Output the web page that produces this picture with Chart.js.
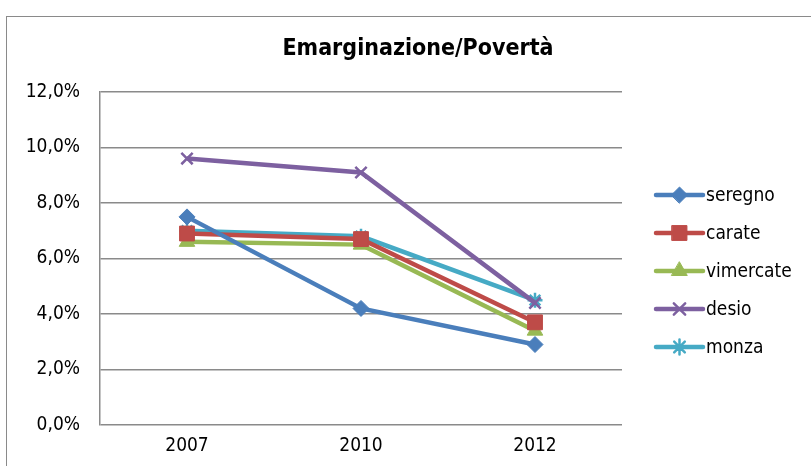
<!DOCTYPE html>
<html><head><meta charset="utf-8">
<script src="https://cdn.jsdelivr.net/npm/chart.js@4"></script>
<style>
html,body{margin:0;padding:0;background:#fff;}
#wrap{position:relative;width:811px;height:466px;overflow:hidden;}
#frame{position:absolute;left:6px;top:16px;width:820px;height:460px;border-left:1.5px solid #8a8a8a;border-top:1.5px solid #8a8a8a;}
canvas{position:absolute;left:0;top:0;}
</style></head>
<body><div id="wrap"><div id="frame"></div><canvas id="c" width="811" height="466"></canvas></div>
<script>
const categories = ['2007','2010','2012'];
const seregno   = [7.5, 4.2, 2.9];
const carate    = [6.9, 6.7, 3.7];
const vimercate = [6.6, 6.5, 3.4];
const desio     = [9.6, 9.1, 4.4];
const monza     = [7.0, 6.8, 4.5];
const seriesNames = ['seregno','carate','vimercate','desio','monza'];
const yTicks = [0,2,4,6,8,10,12];
const titleText = 'Emarginazione/Povertà';

const FONT = "'Liberation Sans Narrow','DejaVu Sans Condensed',sans-serif";
const colors = ['#4A7EBB','#BE4B48','#98B954','#7D60A0','#46AAC5'];
const styles = ['rectRot','rect','triangle','crossRot','star'];
const radii = [8,10.5,9,8,7.5];
const values = [seregno,carate,vimercate,desio,monza];

const datasets = values.map((v,i)=>({
  label: seriesNames[i], data: v,
  borderColor: colors[i], backgroundColor: colors[i],
  borderWidth: 4.5, pointStyle: styles[i], pointRadius: radii[i],
  pointBorderWidth: (styles[i]==='crossRot'||styles[i]==='star')?2.5:1,
  pointBackgroundColor: colors[i], pointBorderColor: colors[i], tension: 0
}));

const extras = {
  id:'extras',
  afterDraw(chart){
    const ctx = chart.ctx;
    ctx.save();
    ctx.fillStyle='#000';
    ctx.font = "bold 23px " + FONT;
    ctx.textAlign='center'; ctx.textBaseline='middle';
    ctx.fillText(titleText, 418, 49);
    // legend
    ctx.font = "19px " + FONT;
    ctx.textAlign='left';
    const x0 = 656, x1 = 703, y0 = 195, dy = 38;
    chart.data.datasets.forEach((ds,i)=>{
      const y = y0 + i*dy;
      ctx.strokeStyle = ds.borderColor; ctx.lineWidth = 4.5; ctx.lineCap='round';
      ctx.beginPath(); ctx.moveTo(x0,y); ctx.lineTo(x1,y); ctx.stroke();
      ctx.fillStyle = ds.borderColor; ctx.strokeStyle = ds.borderColor;
      ctx.lineWidth = ds.pointBorderWidth;
      Chart.helpers.drawPoint(ctx, {pointStyle: ds.pointStyle, radius: ds.pointRadius, borderWidth: ds.pointBorderWidth, rotation:0}, (x0+x1)/2, y);
      ctx.fillStyle='#000';
      ctx.fillText(ds.label, 706, y+1);
    });
    ctx.restore();
  }
};

new Chart(document.getElementById('c'), {
  type:'line',
  data:{labels:categories, datasets},
  options:{
    responsive:false, animation:false,
    layout:{padding:{left:0, top:92, right:189, bottom:0}},
    plugins:{legend:{display:false}, title:{display:false}, tooltip:{enabled:false}},
    scales:{
      x:{offset:true, grid:{display:false, drawTicks:false},
         border:{display:false},
         ticks:{color:'#000', font:{family:FONT, size:19}, padding:10},
         afterFit(s){ s.height = 41; }},
      y:{min:0, max:12, afterBuildTicks(s){ s.ticks = yTicks.map(v=>({value:v})); },
         grid:{color:'#8a8a8a', lineWidth:1.5, drawTicks:false},
         border:{display:true, color:'#8a8a8a', width:1.5},
         ticks:{color:'#000', font:{family:FONT, size:19}, padding:20,
                callback:v=>v.toFixed(1).replace('.',',')+'%'},
         afterFit(s){ s.width = 100; }}
    }
  },
  plugins:[extras]
});
</script></body></html>
